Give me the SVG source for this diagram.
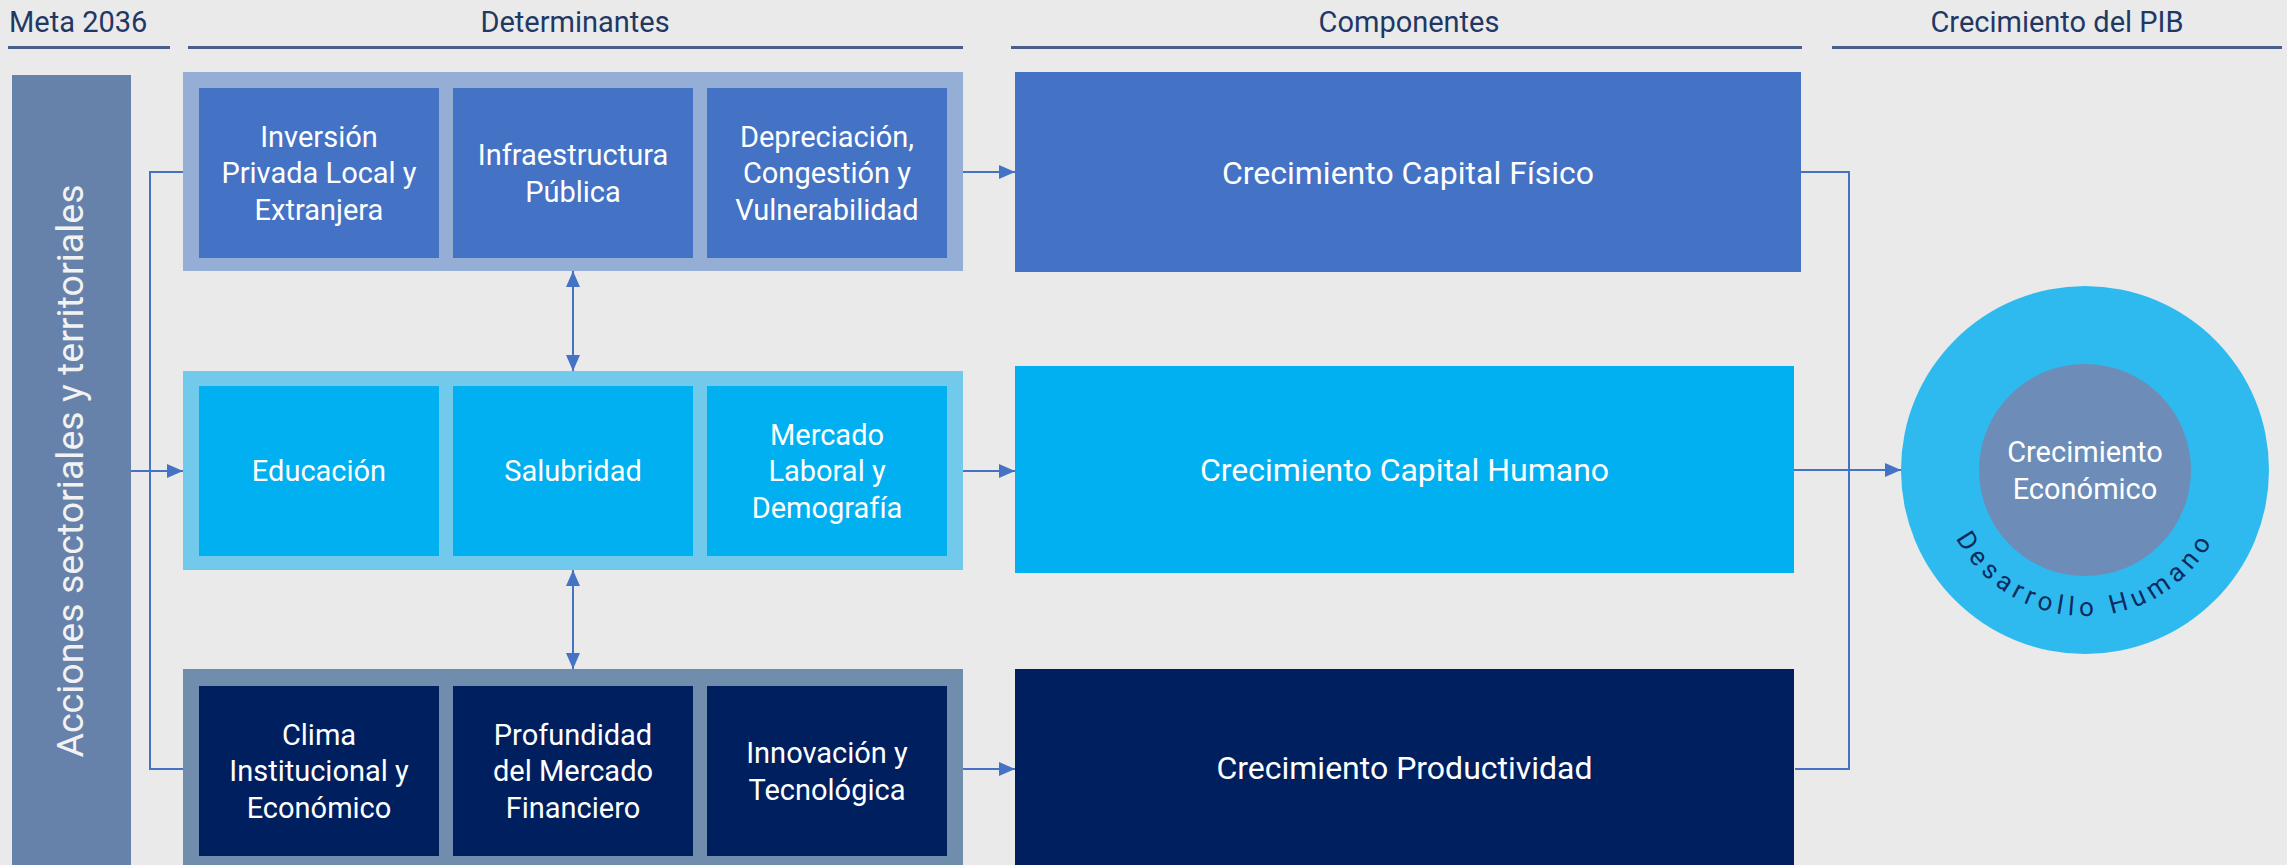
<svg xmlns="http://www.w3.org/2000/svg" width="2287" height="865" viewBox="0 0 2287 865">
<defs>
<style>
.hdr{font-family:Roboto,"Liberation Sans",sans-serif;font-size:29px;fill:#1F3864;text-anchor:middle}
.hline{stroke:#4B5D8C;stroke-width:3;fill:none}
.bt{font-family:Roboto,"Liberation Sans",sans-serif;font-size:29px;fill:#FFFFFF;text-anchor:middle}
.ct{font-family:Roboto,"Liberation Sans",sans-serif;font-size:32px;fill:#FFFFFF;text-anchor:middle}
.conn{stroke:#4472C4;stroke-width:2;fill:none}
.g1o{fill:#95AED6}.g1i{fill:#4472C4}
.g2o{fill:#71CAEC}.g2i{fill:#00B0F0}
.g3o{fill:#708DAE}.g3i{fill:#001F5F}
</style>
<marker id="arr" markerUnits="userSpaceOnUse" markerWidth="16" markerHeight="14" refX="16" refY="7" orient="auto-start-reverse">
<path d="M0,0 L16,7 L0,14 Z" fill="#4472C4"/>
</marker>
<path id="arc" d="M1939,470 A146,146 0 0 0 2231,470"/>
</defs>
<rect x="0" y="0" width="2287" height="865" fill="#EAEAEA"/>

<g id="headers">
<text class="hdr" x="9" y="32" style="text-anchor:start">Meta 2036</text>
<line class="hline" x1="8" y1="47.5" x2="170" y2="47.5"/>
<text class="hdr" x="575" y="32">Determinantes</text>
<line class="hline" x1="188" y1="47.5" x2="963" y2="47.5"/>
<text class="hdr" x="1409" y="32">Componentes</text>
<line class="hline" x1="1011" y1="47.5" x2="1802" y2="47.5"/>
<text class="hdr" x="2057" y="32">Crecimiento del PIB</text>
<line class="hline" x1="1832" y1="47.5" x2="2282" y2="47.5"/>
</g>

<g id="connectors">
<line class="conn" x1="131" y1="471" x2="183" y2="471" marker-end="url(#arr)"/>
<polyline class="conn" points="183,172 150,172 150,769 183,769"/>
<line class="conn" x1="573" y1="271" x2="573" y2="371" marker-start="url(#arr)" marker-end="url(#arr)"/>
<line class="conn" x1="573" y1="570" x2="573" y2="669" marker-start="url(#arr)" marker-end="url(#arr)"/>
<line class="conn" x1="963" y1="172" x2="1015" y2="172" marker-end="url(#arr)"/>
<line class="conn" x1="963" y1="471" x2="1015" y2="471" marker-end="url(#arr)"/>
<line class="conn" x1="963" y1="769" x2="1015" y2="769" marker-end="url(#arr)"/>
<polyline class="conn" points="1801,172 1849,172 1849,769 1795,769"/>
<line class="conn" x1="1794" y1="470" x2="1901" y2="470" marker-end="url(#arr)"/>
</g>

<g id="meta">
<rect x="12" y="75" width="119" height="790" fill="#6682AA"/>
<text transform="translate(83,471) rotate(-90)" style="font-family:Roboto,'Liberation Sans',sans-serif;font-size:37.5px;fill:#F2F2F2;text-anchor:middle">Acciones sectoriales y territoriales</text>
</g>

<g id="grupo-capital-fisico">
<rect class="g1o" x="183" y="72" width="780" height="199"/>
<g id="inversion">
<rect class="g1i" x="199" y="88" width="240" height="170"/>
<text class="bt" x="319" y="146.5">Inversión</text>
<text class="bt" x="319" y="183">Privada Local y</text>
<text class="bt" x="319" y="219.5">Extranjera</text>
</g>
<g id="infraestructura">
<rect class="g1i" x="453" y="88" width="240" height="170"/>
<text class="bt" x="573" y="165">Infraestructura</text>
<text class="bt" x="573" y="201.5">Pública</text>
</g>
<g id="depreciacion">
<rect class="g1i" x="707" y="88" width="240" height="170"/>
<text class="bt" x="827" y="146.5">Depreciación,</text>
<text class="bt" x="827" y="183">Congestión y</text>
<text class="bt" x="827" y="219.5">Vulnerabilidad</text>
</g>
</g>

<g id="grupo-capital-humano">
<rect class="g2o" x="183" y="371" width="780" height="199"/>
<g id="educacion">
<rect class="g2i" x="199" y="386" width="240" height="170"/>
<text class="bt" x="319" y="481.3">Educación</text>
</g>
<g id="salubridad">
<rect class="g2i" x="453" y="386" width="240" height="170"/>
<text class="bt" x="573" y="481.3">Salubridad</text>
</g>
<g id="mercado-laboral">
<rect class="g2i" x="707" y="386" width="240" height="170"/>
<text class="bt" x="827" y="444.8">Mercado</text>
<text class="bt" x="827" y="481.3">Laboral y</text>
<text class="bt" x="827" y="517.8">Demografía</text>
</g>
</g>

<g id="grupo-productividad">
<rect class="g3o" x="183" y="669" width="780" height="196"/>
<g id="clima">
<rect class="g3i" x="199" y="686" width="240" height="170"/>
<text class="bt" x="319" y="744.8">Clima</text>
<text class="bt" x="319" y="781.3">Institucional y</text>
<text class="bt" x="319" y="817.8">Económico</text>
</g>
<g id="profundidad">
<rect class="g3i" x="453" y="686" width="240" height="170"/>
<text class="bt" x="573" y="744.8">Profundidad</text>
<text class="bt" x="573" y="781.3">del Mercado</text>
<text class="bt" x="573" y="817.8">Financiero</text>
</g>
<g id="innovacion">
<rect class="g3i" x="707" y="686" width="240" height="170"/>
<text class="bt" x="827" y="763">Innovación y</text>
<text class="bt" x="827" y="799.5">Tecnológica</text>
</g>
</g>

<g id="capital-fisico">
<rect class="g1i" x="1015" y="72" width="786" height="200"/>
<text class="ct" x="1408" y="183.5">Crecimiento Capital Físico</text>
</g>
<g id="capital-humano">
<rect class="g2i" x="1015" y="366" width="779" height="207"/>
<text class="ct" x="1404.5" y="481">Crecimiento Capital Humano</text>
</g>
<g id="productividad">
<rect class="g3i" x="1015" y="669" width="779" height="196"/>
<text class="ct" x="1404.5" y="778.5">Crecimiento Productividad</text>
</g>

<g id="crecimiento-economico">
<circle cx="2085" cy="470" r="184" fill="#2EBAEE"/>
<circle cx="2085" cy="470" r="106" fill="#6D8DB8"/>
<text class="bt" x="2085" y="462">Crecimiento</text>
<text class="bt" x="2085" y="498.5">Económico</text>
<text style="font-family:Roboto,'Liberation Sans',sans-serif;font-size:26px;fill:#0D2B5E;letter-spacing:5.5px"><textPath href="#arc" startOffset="50%" text-anchor="middle">Desarrollo Humano</textPath></text>
</g>
</svg>
